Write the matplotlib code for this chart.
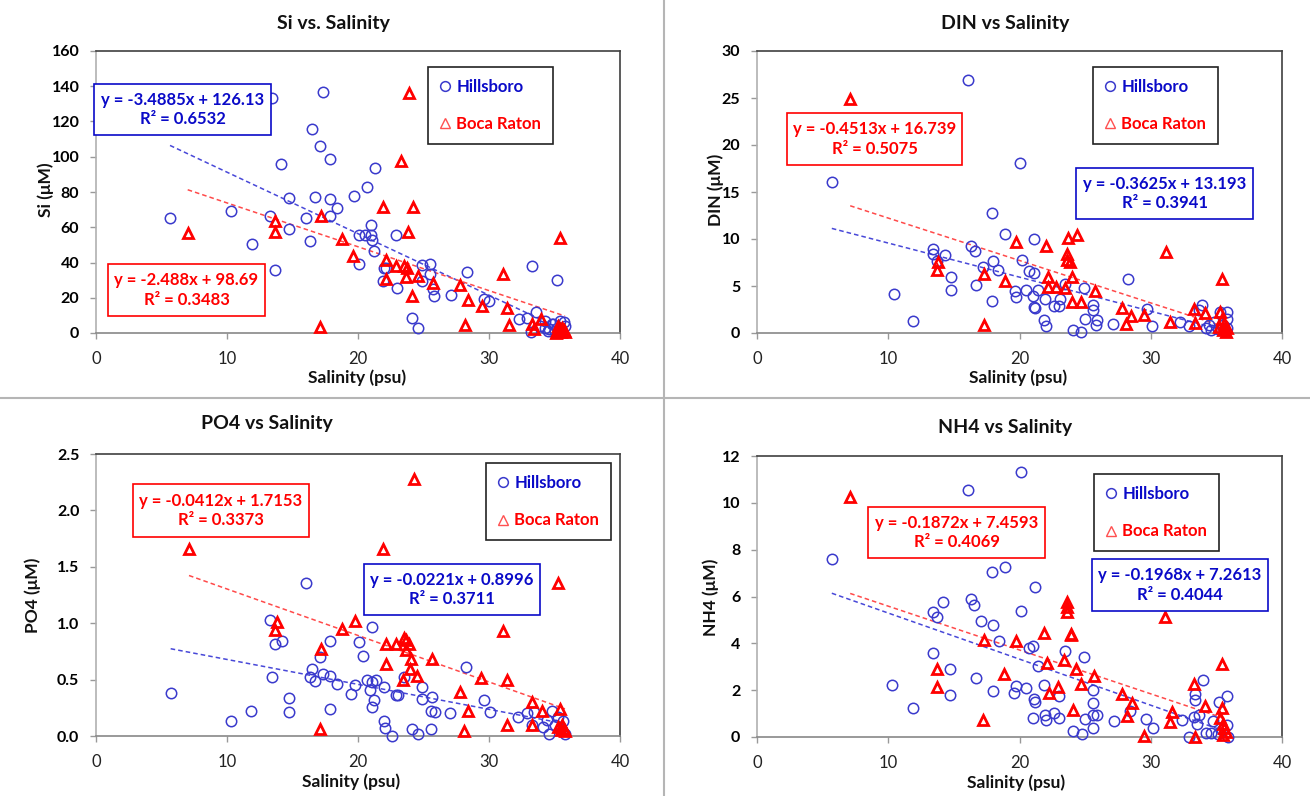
import matplotlib
matplotlib.use('Agg')
import matplotlib.pyplot as plt
from matplotlib.lines import Line2D
from matplotlib.patches import Rectangle
import numpy as np

# ---------------- DATA ----------------
# Panel 1: Si vs Salinity
si_hill_sal = [17.3, 13.4, 16.5, 17.1, 17.9, 14.1, 21.3, 20.7, 19.7, 14.7,
               16.7, 17.9, 18.4, 5.65, 10.3, 13.3, 16.0, 17.9, 21.0, 14.7,
               20.05, 20.5, 21.0, 21.1, 21.2, 22.9, 11.9, 16.3, 13.7, 20.05,
               22.0, 22.1, 21.9, 23.0, 24.9, 25.5, 25.5, 24.9, 25.7, 25.8,
               24.1, 24.6, 27.1, 28.3, 29.6, 30.0, 33.25, 35.2, 32.3, 32.9,
               33.6, 33.2, 34.3, 34.9, 35.4, 33.9, 34.3, 34.6, 34.8, 35.0,
               35.2, 35.5, 35.6, 35.8, 35.3, 34.5, 35.7]
si_hill_val = [137, 133.6, 116, 106, 98.5, 95.8, 93.8, 82.6, 77.9, 76.6,
               77.3, 75.8, 70.7, 65, 69.2, 66.2, 65.2, 66.2, 61.4, 59.2,
               55.6, 55.6, 55.4, 52.9, 46.7, 55.8, 50.5, 52, 35.9, 39.1,
               36.7, 36.7, 29.3, 25.5, 38.8, 39.1, 33.5, 29.7, 25, 21.2,
               8.7, 2.6, 21.7, 34.6, 19.1, 18, 37.8, 30, 7.9, 8.5,
               11.7, 0.4, 7, 5.1, 7, 4, 3, 2, 5, 1,
               3, 2, 0.5, 4, 0.3, 1, 6]
si_boca_sal = [23.9, 23.3, 21.9, 24.2, 7.0, 13.65, 13.7, 17.2, 18.8, 23.8,
               19.6, 22.1, 22.9, 23.5, 23.75, 22.1, 23.7, 24.6, 25.7, 24.1,
               27.8, 28.4, 29.5, 31.1, 31.4, 31.5, 28.2, 17.1, 35.4, 34.0,
               33.3, 33.4, 35.2, 35.4, 35.5, 35.6, 35.7, 35.3, 35.8, 35.1]
si_boca_val = [136, 97.7, 71.3, 71.3, 56.7, 63.3, 57.1, 66.2, 53.3, 57.1,
               43.9, 41.4, 38.2, 38.2, 36.9, 30.6, 31.9, 32.5, 28.4, 20.8,
               27.4, 18.7, 15.5, 33.5, 14.2, 4.7, 4.3, 3.2, 53.9, 7.9,
               5.1, 2.3, 1, 2, 0.5, 3, 1.5, 4, 0.3, 0.2]

# Panel 2: DIN vs Salinity
din_hill_sal = [16.1, 20.05, 5.7, 17.9, 18.9, 21.1, 13.4, 13.4, 14.3, 16.3,
                16.6, 13.7, 17.2, 18.0, 20.2, 18.35, 20.7, 21.1, 14.75, 14.75,
                16.65, 10.4, 11.9, 17.9, 19.65, 19.7, 20.5, 21.4, 21.0, 21.1,
                21.15, 21.95, 21.9, 22.0, 22.6, 23.0, 23.05, 23.5, 24.9, 25.6,
                25.6, 25.0, 25.9, 25.8, 24.1, 24.7, 27.1, 28.3, 29.7, 30.1,
                32.2, 32.9, 33.9, 33.7, 34.2, 34.6, 34.8, 35.3, 35.8, 35.8,
                35.8, 35.1, 35.5, 35.6, 34.4]
din_hill_val = [26.95, 18.1, 16.1, 12.8, 10.5, 9.96, 8.97, 8.4, 8.26, 9.25,
                8.7, 7.7, 7.0, 7.7, 7.77, 6.7, 6.56, 6.35, 6.0, 4.6,
                5.1, 4.1, 1.24, 3.37, 4.5, 3.8, 4.57, 4.57, 3.9, 2.73,
                2.62, 3.6, 1.4, 0.78, 2.9, 2.9, 3.58, 5.2, 4.75, 3.0,
                2.5, 1.5, 1.4, 0.9, 0.35, 0.07, 1.0, 5.74, 2.55, 0.78,
                1.2, 0.7, 3.0, 2.4, 0.5, 0.35, 1.13, 2.2, 2.27, 1.5,
                0.53, 0.43, 0.9, 0.2, 0.8]
din_boca_sal = [7.1, 13.8, 13.7, 19.7, 22.0, 23.7, 24.35, 23.6, 23.6, 23.85,
                17.3, 18.9, 22.15, 24.0, 22.2, 22.8, 23.5, 25.75, 24.0, 24.7,
                17.3, 27.8, 28.5, 28.15, 29.5, 31.15, 31.5, 33.3, 34.1, 33.4,
                35.45, 35.4, 35.2, 35.5, 35.6, 35.7, 35.3, 35.8]
din_boca_val = [24.9, 7.6, 6.7, 9.7, 9.26, 10.1, 10.4, 8.37, 7.77, 7.6,
                6.28, 5.57, 6.0, 6.0, 4.86, 4.86, 4.75, 4.5, 3.26, 3.26,
                0.9, 2.66, 1.77, 0.96, 1.9, 8.65, 1.2, 2.55, 2.1, 1.03,
                5.74, 1.5, 0.6, 0.3, 1.0, 0.15, 2.2, 0.5]

# Panel 3: PO4 vs Salinity
po4_hill_sal = [16.05, 13.3, 13.7, 14.2, 21.1, 20.1, 17.9, 20.4, 17.1, 16.5,
                16.3, 16.75, 17.3, 17.9, 18.4, 13.4, 5.7, 14.7, 14.7, 11.85,
                10.3, 17.9, 19.8, 19.5, 20.7, 21.4, 21.1, 20.95, 21.2, 21.1,
                22.0, 22.9, 23.07, 22.0, 22.05, 22.6, 23.5, 24.9, 24.9, 25.65,
                25.6, 25.9, 24.1, 24.6, 25.6, 27.0, 28.25, 29.65, 30.1, 32.2,
                32.9, 33.4, 34.8, 34.1, 34.6, 35.25, 35.65, 35.8, 33.25, 35.5,
                34.4, 35.0]
po4_hill_val = [1.36, 1.03, 0.82, 0.84, 0.97, 0.83, 0.84, 0.71, 0.70, 0.59,
                0.52, 0.49, 0.55, 0.53, 0.46, 0.52, 0.38, 0.34, 0.21, 0.22,
                0.13, 0.24, 0.45, 0.37, 0.5, 0.5, 0.48, 0.41, 0.32, 0.26,
                0.43, 0.36, 0.36, 0.13, 0.07, 0.0, 0.52, 0.43, 0.33, 0.35,
                0.22, 0.21, 0.06, 0.02, 0.06, 0.2, 0.61, 0.32, 0.21, 0.17,
                0.2, 0.21, 0.22, 0.08, 0.02, 0.17, 0.13, 0.02, 0.1, 0.06,
                0.14, 0.1]
po4_boca_sal = [24.3, 21.9, 7.1, 35.3, 13.8, 13.7, 19.75, 18.8, 31.1, 17.2,
                22.1, 22.9, 23.5, 23.7, 23.9, 23.7, 24.05, 22.15, 25.65, 24.0,
                23.4, 24.5, 29.4, 31.4, 27.8, 28.4, 28.1, 17.1, 31.4, 33.3,
                34.05, 35.4, 33.25, 35.3, 35.5, 35.6, 35.7, 35.8]
po4_boca_val = [2.28, 1.66, 1.66, 1.36, 1.01, 0.94, 1.02, 0.95, 0.93, 0.77,
                0.82, 0.82, 0.87, 0.85, 0.82, 0.76, 0.68, 0.64, 0.68, 0.59,
                0.5, 0.53, 0.51, 0.5, 0.39, 0.22, 0.04, 0.06, 0.1, 0.3,
                0.22, 0.24, 0.1, 0.08, 0.05, 0.1, 0.06, 0.04]

# Panel 4: NH4 vs Salinity
nh4_hill_sal = [20.1, 16.05, 5.7, 18.9, 17.9, 21.15, 16.3, 16.5, 14.2, 13.4,
                13.75, 20.15, 17.1, 17.95, 18.4, 20.7, 21.05, 23.5, 24.9, 13.4,
                14.7, 16.7, 21.4, 10.3, 11.85, 14.7, 17.95, 19.6, 19.7, 20.5,
                21.1, 21.2, 21.9, 23.0, 21.05, 21.95, 22.05, 22.6, 23.0, 24.1,
                24.75, 24.98, 25.6, 25.6, 25.6, 25.9, 25.6, 27.2, 28.4, 29.6,
                30.2, 32.4, 32.9, 33.4, 33.4, 33.3, 33.7, 33.55, 33.95, 34.2,
                34.6, 34.75, 35.2, 35.8, 35.8, 35.85, 35.1, 35.4]
nh4_hill_val = [11.3, 10.55, 7.6, 7.24, 7.04, 6.4, 5.9, 5.63, 5.77, 5.33,
                5.13, 5.37, 4.97, 4.8, 4.09, 3.8, 3.89, 3.66, 3.42, 3.59,
                2.92, 2.52, 3.02, 2.22, 1.22, 1.78, 1.97, 1.88, 2.18, 2.08,
                1.61, 1.5, 2.24, 1.75, 0.83, 0.93, 0.71, 1.04, 0.83, 0.27,
                0.14, 0.78, 1.99, 1.47, 0.93, 0.95, 0.4, 0.67, 1.1, 0.78,
                0.38, 0.71, 0.0, 1.85, 1.57, 0.85, 0.94, 0.57, 2.45, 0.19,
                0.19, 0.67, 1.5, 1.74, 0.5, 0.0, 0.14, 0.3]
nh4_boca_sal = [7.1, 23.65, 23.65, 23.65, 23.9, 23.9, 31.05, 21.9, 17.3, 19.75,
                22.1, 23.4, 24.3, 25.7, 13.7, 13.7, 18.8, 22.9, 22.25, 24.65,
                27.8, 28.55, 28.2, 31.6, 31.5, 29.5, 24.1, 17.2, 33.3, 34.1,
                33.4, 35.4, 35.4, 35.5, 35.3, 35.6, 35.7, 35.5]
nh4_boca_val = [10.25, 5.77, 5.55, 5.34, 4.39, 4.34, 5.13, 4.42, 4.13, 4.1,
                3.16, 3.3, 2.9, 2.6, 2.9, 2.14, 2.7, 2.14, 1.88, 2.28,
                1.82, 1.47, 0.9, 1.07, 0.64, 0.03, 1.17, 0.74, 2.28, 1.32,
                0.0, 3.1, 1.25, 0.57, 0.8, 0.4, 0.2, 0.1]

# Trendline equations as shown: (slope, intercept, R2)
si_hill_fit = (-3.4885, 126.13, 0.6532)
si_boca_fit = (-2.488, 98.69, 0.3483)
din_hill_fit = (-0.3625, 13.193, 0.3941)
din_boca_fit = (-0.4513, 16.739, 0.5075)
po4_hill_fit = (-0.0221, 0.8996, 0.3711)
po4_boca_fit = (-0.0412, 1.7153, 0.3373)
nh4_hill_fit = (-0.1968, 7.2613, 0.4044)
nh4_boca_fit = (-0.1872, 7.4593, 0.4069)

titles = ["Si vs. Salinity", "DIN vs Salinity", "PO4 vs Salinity", "NH4 vs Salinity"]
ylabels = ["Si (\u03bcM)", "DIN (\u03bcM)", "PO4 (\u03bcM)", "NH4 (\u03bcM)"]
xlabel = "Salinity (psu)"
series_names = ["Hillsboro", "Boca Raton"]
xticks = [0, 10, 20, 30, 40]
si_yticks = [0, 20, 40, 60, 80, 100, 120, 140, 160]
din_yticks = [0, 5, 10, 15, 20, 25, 30]
po4_yticks = [0.0, 0.5, 1.0, 1.5, 2.0, 2.5]
nh4_yticks = [0, 2, 4, 6, 8, 10, 12]

# ---------------- STYLE / LAYOUT ----------------
FONT = ['Lato', 'DejaVu Sans']
plt.rcParams['font.family'] = FONT
W, H = 1310, 796
BLUE_M = '#3a3acc'
BLUE_T = '#0a0ac8'
RED = '#ff0000'

fig = plt.figure(figsize=(W / 100, H / 100), dpi=100)


def fx(px):
    return px / W


def fy(py):
    return 1 - py / H


def make_axes(l, t, r, b):
    return fig.add_axes([fx(l), fy(b), (r - l) / W, (b - t) / H])


def eq_box(l, t, r, b, color, fit, fs=12):
    fig.add_artist(Rectangle((fx(l), fy(b)), (r - l) / W, (b - t) / H,
                             transform=fig.transFigure, fill=True, fc='white',
                             ec=color, lw=1.2, zorder=5))
    m, c, r2 = fit
    s = f"y = {m}x + {c}\nR\u00b2 = {r2}"
    fig.text(fx((l + r) / 2), fy((t + b) / 2), s, ha='center', va='center',
             color=color, fontsize=fs, fontweight='bold', linespacing=1.3,
             zorder=6, family=FONT)


panels = [
    dict(rect=(96, 51, 620, 333), hs=si_hill_sal, hv=si_hill_val, bs=si_boca_sal, bv=si_boca_val,
         hf=si_hill_fit, bf=si_boca_fit, yt=si_yticks, yfmt='{:g}',
         title_xy=(333, 23), ylab_xy=(46, 190), xlab_xy=(357, 378),
         leg=(428, 67, 550, 135),
         hbox=(94, 84, 271, 135), bbox_=(108, 264, 265, 316)),
    dict(rect=(757, 51, 1282, 333), hs=din_hill_sal, hv=din_hill_val, bs=din_boca_sal, bv=din_boca_val,
         hf=din_hill_fit, bf=din_boca_fit, yt=din_yticks, yfmt='{:g}',
         title_xy=(1005, 23), ylab_xy=(716, 190), xlab_xy=(1018, 378),
         leg=(1093, 67, 1211, 135),
         hbox=(1076, 168, 1253, 219), bbox_=(787, 113, 962, 165)),
    dict(rect=(96, 454, 620, 736), hs=po4_hill_sal, hv=po4_hill_val, bs=po4_boca_sal, bv=po4_boca_val,
         hf=po4_hill_fit, bf=po4_boca_fit, yt=po4_yticks, yfmt='{:.1f}',
         title_xy=(267, 423), ylab_xy=(33, 595), xlab_xy=(351, 782),
         leg=(486, 463, 605, 530),
         hbox=(364, 564, 540, 615), bbox_=(133, 484, 309, 537)),
    dict(rect=(757, 456, 1282, 737), hs=nh4_hill_sal, hv=nh4_hill_val, bs=nh4_boca_sal, bv=nh4_boca_val,
         hf=nh4_hill_fit, bf=nh4_boca_fit, yt=nh4_yticks, yfmt='{:g}',
         title_xy=(1005, 427), ylab_xy=(711, 597), xlab_xy=(1016, 783),
         leg=(1094, 474, 1248, 533),
         hbox=(1092, 559, 1268, 611), bbox_=(868, 507, 1045, 558)),
]

for i, p in enumerate(panels):
    ax = make_axes(*p['rect'])
    ax.set_xlim(0, 40)
    ax.set_ylim(p['yt'][0], p['yt'][-1])
    ax.set_xticks(xticks)
    ax.set_yticks(p['yt'])
    ax.set_xticklabels([str(v) for v in xticks], fontsize=12, color='#222222')
    ax.set_yticklabels([p['yfmt'].format(v) for v in p['yt']], fontsize=11.5,
                       fontweight='bold', color='black')
    ax.tick_params(direction='out', length=4, width=1, color='#999999')
    ax.tick_params(axis='x', pad=9)
    ax.tick_params(axis='y', pad=8)
    ax.spines['left'].set_color('#b0b0b0')
    ax.spines['bottom'].set_color('#888888')
    ax.spines['top'].set_color('#404040')
    ax.spines['right'].set_color('#404040')
    for sp in ax.spines.values():
        sp.set_linewidth(1.2)

    # trendlines
    for sal, fit, col in ((p['hs'], p['hf'], '#4848d8'), (p['bs'], p['bf'], '#ff4a4a')):
        xs = np.array([min(sal), max(sal)])
        ax.plot(xs, fit[0] * xs + fit[1], ls=(0, (3, 2)), lw=1.1, color=col, zorder=2)

    ax.plot(p['hs'], p['hv'], ls='none', marker='o', ms=7.5, mfc='none', mec=BLUE_M,
            mew=1.1, zorder=3, clip_on=False)
    ax.plot(p['bs'], p['bv'], ls='none', marker='^', ms=7, mfc='none', mec=RED,
            mew=2.0, zorder=4, clip_on=False)

    # titles and labels
    fig.text(fx(p['title_xy'][0]), fy(p['title_xy'][1]), titles[i], ha='center', va='center',
             fontsize=14, fontweight='bold', color='#111111')
    fig.text(fx(p['ylab_xy'][0]), fy(p['ylab_xy'][1]), ylabels[i], ha='center', va='center',
             rotation=90, fontsize=12.5, fontweight='bold', color='#111111', family=FONT)
    fig.text(fx(p['xlab_xy'][0]), fy(p['xlab_xy'][1]), xlabel, ha='center', va='center',
             fontsize=12.5, fontweight='bold', color='#111111')

    # legend
    l, t, r, b = p['leg']
    handles = [Line2D([], [], ls='none', marker='o', ms=7, mfc='none', mec=BLUE_M, mew=1.1),
               Line2D([], [], ls='none', marker='^', ms=7, mfc='none', mec='#ff5050', mew=1.0)]
    leg = ax.legend(handles, series_names, loc='upper left',
                    bbox_to_anchor=(fx(l), fy(t)), bbox_transform=fig.transFigure,
                    frameon=True, fancybox=False, edgecolor='#222222', framealpha=1,
                    borderpad=0.7, labelspacing=1.3, handlelength=0.6, handletextpad=0.4,
                    borderaxespad=0, prop=dict(weight='bold', size=12, family=FONT),
                    labelcolor=[BLUE_T, RED])
    leg.get_frame().set_linewidth(1.2)
    leg.set_zorder(7)

    eq_box(*p['hbox'], BLUE_T, p['hf'])
    eq_box(*p['bbox_'], RED, p['bf'])

# divider lines between the four charts
fig.add_artist(Line2D([fx(664), fx(664)], [0, 1], transform=fig.transFigure,
                      color='#b5b5b5', lw=1.5))
fig.add_artist(Line2D([0, 1], [fy(398), fy(398)], transform=fig.transFigure,
                      color='#b5b5b5', lw=1.5))

fig.savefig('out.png', dpi=100, facecolor='white')
